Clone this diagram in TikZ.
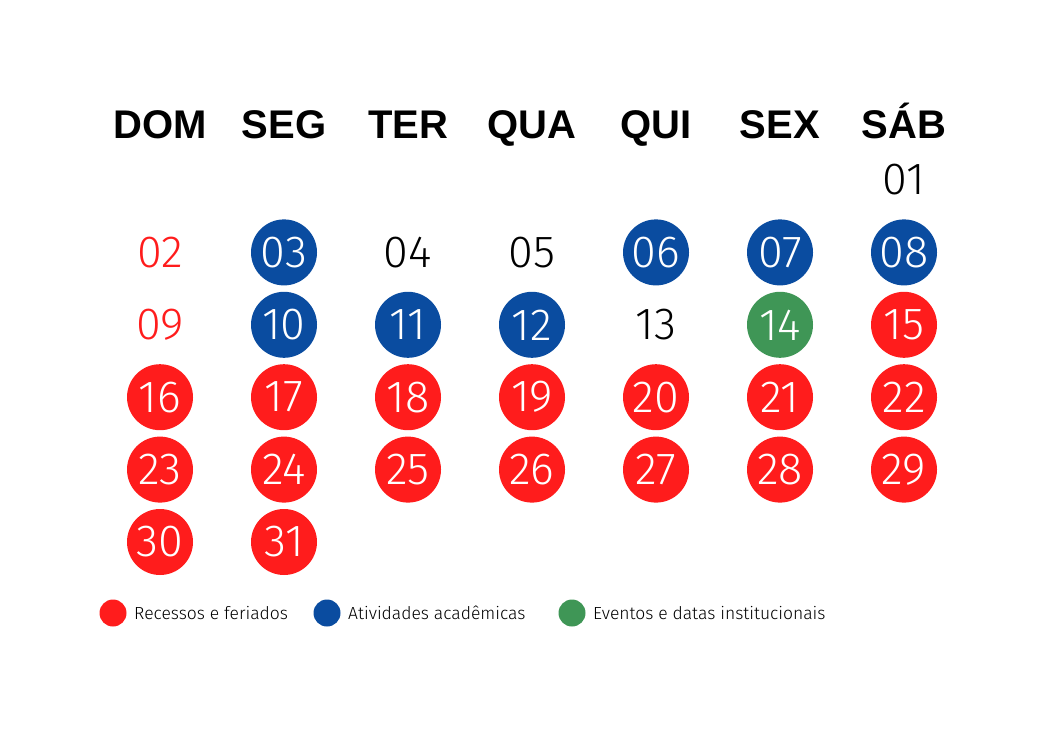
\documentclass[tikz,border=0pt]{standalone}
\usepackage{fontspec}
\setmainfont{Liberation Sans}
\newfontfamily\numfont{Fira Sans Light}
\usetikzlibrary{positioning}

\definecolor{hred}{HTML}{FF1C1C}
\definecolor{ablue}{HTML}{0A4CA0}
\definecolor{egreen}{HTML}{3F9656}

\tikzset{
  head/.style={font=\bfseries\fontsize{40}{40}\selectfont,anchor=base},
  day/.style={font=\numfont\fontsize{45}{45}\selectfont,inner sep=0pt},
  hol/.style={day,circle,fill=hred,text=white,minimum size=66pt},
  acad/.style={day,circle,fill=ablue,text=white,minimum size=66pt},
  evt/.style={day,circle,fill=egreen,text=white,minimum size=66pt},
  plain/.style={day,text=black},
  redday/.style={day,text=hred},
  key/.style={circle,inner sep=0pt,minimum size=27pt},
  keytext/.style={font=\numfont\fontsize{17.5}{17.5}\selectfont,anchor=base west,inner sep=0pt}
}

\begin{document}
\begin{tikzpicture}[x=1pt,y=-1pt,node distance=124pt]
\useasboundingbox (0,0) rectangle (1059,728);

% week days
\node[head] (dom) at (160,138) {DOM};
\node[head] (seg) [right=of dom.base,anchor=base] {SEG};
\node[head] (ter) [right=of seg.base,anchor=base] {TER};
\node[head] (qua) [right=of ter.base,anchor=base] {QUA};
\node[head] (qui) [right=of qua.base,anchor=base] {QUI};
\node[head] (sex) [right=of qui.base,anchor=base] {SEX};
\node[head] (sab) [right=of sex.base,anchor=base] {SÁB};

% days: number/column/row/style
\foreach \d/\c/\r/\s in {01/6/0/plain,
  02/0/1/redday,03/1/1/acad,04/2/1/plain,05/3/1/plain,06/4/1/acad,07/5/1/acad,08/6/1/acad,
  09/0/2/redday,10/1/2/acad,11/2/2/acad,12/3/2/acad,13/4/2/plain,14/5/2/evt,15/6/2/hol,
  16/0/3/hol,17/1/3/hol,18/2/3/hol,19/3/3/hol,20/4/3/hol,21/5/3/hol,22/6/3/hol,
  23/0/4/hol,24/1/4/hol,25/2/4/hol,26/3/4/hol,27/4/4/hol,28/5/4/hol,29/6/4/hol,
  30/0/5/hol,31/1/5/hol}
  \node[\s] (d\d) at ({160+124*\c},{180+72.4*\r}) {\d};

% legend
\node[key,fill=hred]   (kred)   at (113,613) {};
\node[keytext] (tred) at (134,619) {Recessos e feriados};
\node[key,fill=ablue]  (kblue)  at (327,613) {};
\node[keytext] (tblue) at (348,619) {Atividades acadêmicas};
\node[key,fill=egreen] (kgreen) at (572,613) {};
\node[keytext] (tgreen) at (593,619) {Eventos e datas institucionais};
\end{tikzpicture}
\end{document}
